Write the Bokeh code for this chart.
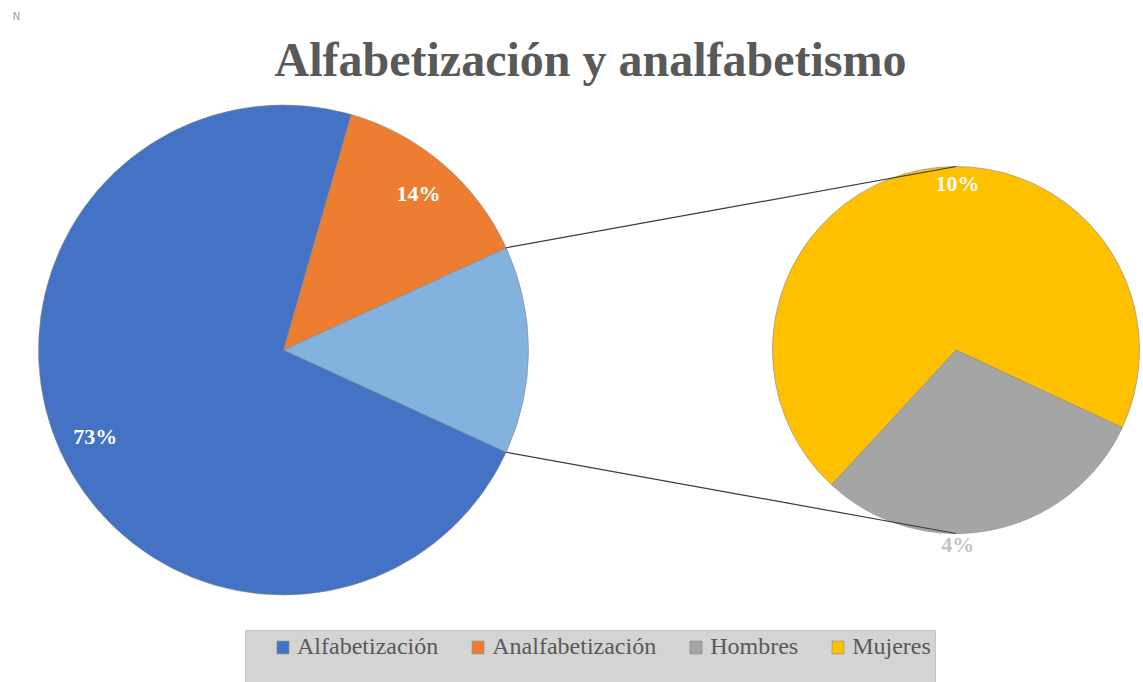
import math
from bokeh.plotting import figure
from bokeh.models import ColumnDataSource, Range1d, Legend, LegendItem, Label
from bokeh.core.properties import value
from bokeh.embed import file_html
from bokeh.resources import INLINE

# ---------------- data ----------------
chart_title = "Alfabetización y analfabetismo"
main_labels = ["Alfabetización", "Analfabetización"]
main_values = [72.6, 13.7]
sec_labels = ["Hombres", "Mujeres"]
sec_values = [4.1, 9.6]

# ---------------- style ----------------
main_colors = ["#4472C4", "#ED7D31"]
other_color = "#84B2DF"
sec_colors = ["#A5A5A5", "#FFC000"]
sec_label_colors = ["#C4C4C4", "white"]
text_grey = "#595959"
serif = "Liberation Serif"

W, H = 1143, 682
main_cx, main_cy, main_r = 283.0, H - 349.5, 245.0
sec_cx, sec_cy, sec_r = 955.5, H - 349.5, 183.5
sec_start_deg = 227.3          # rotation of the second pie
main_label_rfrac = 0.845
sec_label_dir_deg = [-89.5, 89.5]
sec_label_rfrac = [1.06, 0.905]

p = figure(width=W, height=H, x_range=Range1d(0, W), y_range=Range1d(0, H),
           output_backend="svg", toolbar_location=None, min_border=0,
           x_axis_location=None, y_axis_location=None)
p.grid.visible = False
p.outline_line_color = None
p.background_fill_color = "white"
p.border_fill_color = "white"

total = sum(main_values) + sum(sec_values)
other = sum(sec_values)

# ---- main pie ----
other_span = other / total * 2 * math.pi
m_start, m_end, m_col, m_name, m_val = [], [], [], [], []
m_start.append(-other_span / 2); m_end.append(other_span / 2)
m_col.append(other_color); m_name.append("Otros"); m_val.append(other)
ang = other_span / 2
for i in reversed(range(len(main_values))):
    span = main_values[i] / total * 2 * math.pi
    m_start.append(ang); m_end.append(ang + span)
    m_col.append(main_colors[i]); m_name.append(main_labels[i]); m_val.append(main_values[i])
    ang += span

main_src = ColumnDataSource(dict(start=m_start, end=m_end, color=m_col, name=m_name, val=m_val))
main_rend = p.wedge(x=main_cx, y=main_cy, radius=main_r, start_angle="start", end_angle="end",
                    fill_color="color", line_color="#8a8a8a", line_width=0.8, line_alpha=0.8,
                    source=main_src)

# main labels
lx, ly, lt = [], [], []
for s, e, n, v in zip(m_start, m_end, m_name, m_val):
    if n in main_labels:
        mid = (s + e) / 2
        lx.append(main_cx + main_label_rfrac * main_r * math.cos(mid))
        ly.append(main_cy + main_label_rfrac * main_r * math.sin(mid))
        lt.append(f"{round(v / total * 100)}%")
p.text(x=lx, y=ly, text=lt, text_color="white", text_font=value(serif),
       text_font_style="bold", text_font_size="22px", text_align="center",
       text_baseline="middle")

# ---- secondary pie ----
s_start, s_end = [], []
ang = math.radians(sec_start_deg)
for v in sec_values:
    span = v / other * 2 * math.pi
    s_start.append(ang); s_end.append(ang + span)
    ang += span
sec_src = ColumnDataSource(dict(start=s_start, end=s_end, color=sec_colors, name=sec_labels))
sec_rend = p.wedge(x=sec_cx, y=sec_cy, radius=sec_r, start_angle="start", end_angle="end",
                   fill_color="color", line_color="#8a8a8a", line_width=0.8, line_alpha=0.8,
                   source=sec_src)

sx = [sec_cx + f * sec_r * math.cos(math.radians(d)) for f, d in zip(sec_label_rfrac, sec_label_dir_deg)]
sy = [sec_cy + f * sec_r * math.sin(math.radians(d)) for f, d in zip(sec_label_rfrac, sec_label_dir_deg)]
st = [f"{round(v / total * 100)}%" for v in sec_values]
p.text(x=sx, y=sy, text=st, text_color=sec_label_colors, text_font=value(serif),
       text_font_style="bold", text_font_size="22px", text_align="center",
       text_baseline="middle")

# ---- connector lines ----
x0 = [main_cx + main_r * math.cos(other_span / 2), main_cx + main_r * math.cos(-other_span / 2)]
y0 = [main_cy + main_r * math.sin(other_span / 2), main_cy + main_r * math.sin(-other_span / 2)]
x1 = [sec_cx, sec_cx]
y1 = [sec_cy + sec_r, sec_cy - sec_r]
p.segment(x0=x0, y0=y0, x1=x1, y1=y1, line_color="#3a3a3a", line_width=1.2)

# ---- title ----
p.add_layout(Label(x=590, y=H - 59, text=chart_title, text_font=serif, text_font_size="48px",
                   text_font_style="bold", text_color=text_grey, text_align="center",
                   text_baseline="alphabetic"))
p.add_layout(Label(x=16, y=H - 16, text="N", text_font="DejaVu Sans", text_font_size="10px",
                   text_color="#9a9a9a", text_align="center", text_baseline="middle"))

# ---- legend box ----
p.quad(left=245, right=935, bottom=-10, top=H - 630, fill_color="#D4D4D4",
       line_color="#C6C6C6", line_width=1)

items = [
    LegendItem(label=main_labels[0], renderers=[main_rend], index=m_name.index(main_labels[0])),
    LegendItem(label=main_labels[1], renderers=[main_rend], index=m_name.index(main_labels[1])),
    LegendItem(label=sec_labels[0], renderers=[sec_rend], index=0),
    LegendItem(label=sec_labels[1], renderers=[sec_rend], index=1),
]
legend = Legend(items=items, orientation="horizontal", location=(275, 22),
                background_fill_alpha=0, border_line_color=None, padding=0, margin=0,
                spacing=32, label_standoff=7, glyph_width=15, glyph_height=16,
                label_text_font=serif, label_text_font_size="24px",
                label_text_color=text_grey)
p.add_layout(legend)

open("out.html", "w").write(file_html(p, INLINE))
